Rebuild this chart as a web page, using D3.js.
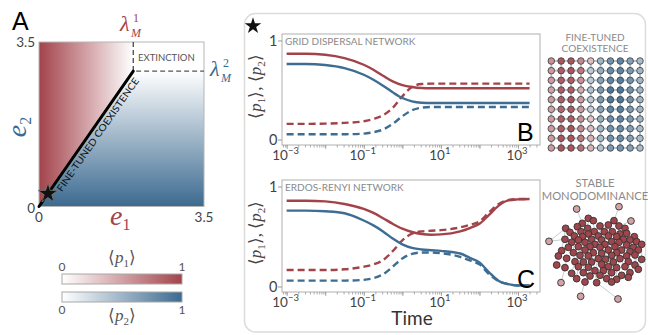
<!DOCTYPE html>
<html>
<head>
<meta charset="utf-8">
<script src="https://cdn.jsdelivr.net/npm/d3@7"></script>
<style>
  html, body { margin: 0; padding: 0; background: #fff; }
  svg { display: block; font-family: Lato, "Open Sans", sans-serif; }
</style>
</head>
<body>
<svg id="fig" width="648" height="335"></svg>
<script>
// ---- data ----
// panel A: phase diagram
const eMax = 3.5;
const lambda1 = 2.0;   // lambda_M^1 on the e1 axis
const lambda2 = 2.88;  // lambda_M^2 on the e2 axis
const starPoint = [0.19, 0.275];
const phaseTicks = [0, 3.5];

// panels B & C: time series (log10 of time)
const logTime = [-3, -2.5, -2, -1.5, -1, -0.75, -0.5, -0.25, 0, 0.25, 0.5, 0.75, 1, 1.5, 1.75, 2, 2.25, 2.5, 2.75, 3, 3.3];

const gridP1 = [.866, .866, .856, .822, .755, .705, .644, .587, .550, .530, .520, .518, .518, .518, .518, .518, .518, .518, .518, .518, .518];
const gridP2 = [.762, .762, .752, .721, .654, .604, .544, .477, .419, .386, .372, .369, .369, .369, .369, .369, .369, .369, .369, .369, .369];
const gridP1Dash = [.158, .158, .161, .168, .185, .208, .245, .319, .436, .530, .560, .564, .564, .564, .564, .564, .564, .564, .564, .564, .564];
const gridP2Dash = [.054, .054, .054, .054, .060, .074, .101, .158, .235, .295, .322, .329, .329, .329, .329, .329, .329, .329, .329, .329, .329];

const erP1 = [.858, .858, .851, .825, .776, .736, .683, .627, .578, .545, .525, .518, .521, .551, .584, .627, .716, .809, .861, .871, .875];
const erP2 = [.759, .759, .752, .733, .660, .611, .551, .479, .422, .386, .370, .363, .356, .330, .287, .241, .142, .056, .023, .010, .010];
const erP1Dash = [.165, .165, .165, .172, .198, .221, .264, .353, .462, .528, .551, .558, .564, .591, .617, .650, .743, .825, .865, .875, .875];
const erP2Dash = [.059, .059, .059, .059, .066, .083, .122, .198, .281, .327, .340, .340, .333, .297, .261, .221, .122, .053, .023, .010, .010];

const xTickLabels = [-3, -1, 1, 3];
const yTickLabels = [0, 1];

// grid network: -1 = dark red (species 1) ... +1 = dark blue (species 2)
const gridState = [
  [-0.55, -0.9, -0.9, -0.6, -0.3, 0.45, 0.7, 0.8, 0.6, 0.4],
  [-0.5, -0.85, -0.9, -0.7, 0.3, 0.5, 0.75, 0.8, 0.65, 0.45],
  [-0.5, -0.85, -0.85, -0.55, 0.3, 0.6, 0.8, 0.85, 0.7, 0.45],
  [-0.45, -0.85, -0.85, -0.4, 0.35, 0.65, 0.9, 0.9, 0.7, 0.45],
  [-0.5, -0.85, -0.9, -0.5, 0.3, 0.65, 0.9, 0.9, 0.7, 0.45],
  [-0.45, -0.8, -0.85, -0.5, 0.25, 0.6, 0.8, 0.85, 0.65, 0.45],
  [-0.5, -0.85, -0.85, -0.55, -0.25, 0.5, 0.75, 0.8, 0.65, 0.45],
  [-0.5, -0.85, -0.9, -0.6, -0.3, 0.45, 0.7, 0.75, 0.6, 0.4],
  [-0.5, -0.9, -0.9, -0.7, -0.35, 0.4, 0.7, 0.75, 0.6, 0.4],
  [-0.5, -0.9, -0.9, -0.75, -0.35, 0.35, 0.65, 0.7, 0.6, 0.4]
];

// Erdos-Renyi network drawing (layout units), first 7 nodes are the pale ones
const netNodes = [
  [95, 27], [222, 20], [258, 63], [12, 124], [48, 248], [107, 289], [219, 297],
  [130, 55], [145, 62], [207, 62], [112, 70], [190, 75], [97, 80], [165, 78], [222, 78],
  [62, 85], [128, 85], [240, 85], [75, 97], [108, 95], [148, 95], [178, 95], [202, 95],
  [245, 100], [225, 102], [130, 102], [88, 108], [113, 110], [160, 108], [190, 108], [215, 110],
  [268, 110], [60, 118], [100, 120], [140, 118], [170, 120], [235, 118], [255, 120], [80, 127],
  [120, 127], [200, 125], [222, 127], [275, 125], [150, 133], [180, 133], [245, 135], [290, 133],
  [70, 142], [100, 140], [135, 140], [165, 142], [210, 140], [265, 142], [50, 152], [120, 150],
  [190, 150], [230, 150], [255, 155], [280, 150], [85, 158], [145, 158], [170, 160], [215, 158],
  [40, 168], [105, 166], [130, 168], [200, 166], [245, 168], [270, 165], [65, 175], [160, 176],
  [182, 178], [225, 176], [290, 178], [90, 185], [115, 186], [140, 186], [205, 186], [250, 185],
  [35, 195], [170, 193], [270, 195], [60, 203], [100, 200], [130, 202], [190, 200], [215, 203],
  [240, 200], [150, 212], [175, 212], [280, 208], [80, 220], [115, 218], [200, 218], [255, 218],
  [135, 228], [165, 226], [230, 226], [95, 236], [185, 236], [215, 238], [250, 232], [120, 246],
  [155, 248], [200, 246]
];
const netPale = 7;
const netEdges = [
  [0, 10], [1, 9], [2, 14], [3, 32], [3, 15], [4, 82], [5, 102], [6, 103],
  [7, 16], [8, 20], [10, 19], [12, 26], [13, 28], [11, 22], [9, 24], [17, 23], [15, 18], [18, 33],
  [19, 25], [20, 34], [21, 29], [22, 30], [24, 36], [23, 31], [26, 38], [27, 39], [28, 35], [29, 40],
  [30, 41], [31, 42], [32, 47], [33, 48], [34, 43], [35, 44], [36, 45], [37, 46], [38, 53], [39, 54],
  [40, 55], [41, 56], [42, 58], [43, 60], [44, 61], [45, 57], [47, 59], [48, 64], [49, 65], [50, 70],
  [51, 62], [52, 68], [53, 63], [54, 75], [55, 71], [56, 72], [57, 67], [59, 74], [60, 76], [61, 80],
  [62, 77], [63, 69], [64, 83], [65, 84], [66, 85], [67, 78], [68, 81], [69, 82], [70, 88], [71, 89],
  [72, 86], [73, 90], [74, 91], [75, 92], [76, 95], [77, 93], [78, 94], [79, 82], [80, 96], [81, 94],
  [83, 98], [84, 95], [85, 99], [86, 100], [87, 101], [88, 103], [89, 99], [93, 104], [97, 100],
  [16, 49], [25, 43], [34, 61], [44, 66], [51, 67], [12, 47], [21, 50], [27, 64], [46, 73], [58, 81],
  [15, 53], [11, 40], [13, 44], [49, 88], [35, 71], [26, 59], [37, 52], [39, 76], [62, 87], [20, 50], [66, 97]
];

// ---- colours / fonts ----
const RED = '#a3434b';
const BLUE = '#3c6a90';
const LINE_RED = '#a2434a';
const LINE_BLUE = '#3e6d93';
const SERIF = "'Liberation Serif', 'Times New Roman', serif";

const svg = d3.select('#fig');
const defs = svg.append('defs');

function linGrad(id, x1, y1, x2, y2, from, to) {
  const g = defs.append('linearGradient')
    .attr('id', id)
    .attr('gradientUnits', 'userSpaceOnUse')
    .attr('x1', x1).attr('y1', y1).attr('x2', x2).attr('y2', y2);
  g.append('stop').attr('offset', 0).attr('stop-color', from);
  g.append('stop').attr('offset', 1).attr('stop-color', to);
}

// ================= panel A =================
const xA = d3.scaleLinear().domain([0, eMax]).range([39, 204]);
const yA = d3.scaleLinear().domain([0, eMax]).range([206.5, 42]);

linGrad('redField', xA(0), 0, xA(lambda1), 0, RED, '#ffffff');
linGrad('blueField', 0, yA(0), 0, yA(lambda2), BLUE, '#ffffff');

const polyLine = d3.line().x(d => xA(d[0])).y(d => yA(d[1]));
const redRegion = [[0, 0], [lambda1, lambda2], [lambda1, eMax], [0, eMax]];
const blueRegion = [[0, 0], [eMax, 0], [eMax, lambda2], [lambda1, lambda2]];

const gA = svg.append('g');
gA.append('path').attr('d', polyLine(redRegion) + 'Z').attr('fill', 'url(#redField)');
gA.append('path').attr('d', polyLine(blueRegion) + 'Z').attr('fill', 'url(#blueField)');
gA.append('rect')
  .attr('x', xA(0)).attr('y', yA(eMax))
  .attr('width', xA(eMax) - xA(0)).attr('height', yA(0) - yA(eMax))
  .attr('fill', 'none').attr('stroke', '#b5b5b5').attr('stroke-width', 1);

gA.append('path')
  .attr('d', polyLine([[lambda1, eMax], [lambda1, lambda2], [eMax, lambda2]]))
  .attr('fill', 'none').attr('stroke', '#555').attr('stroke-width', 1.4)
  .attr('stroke-dasharray', '5,3');

gA.append('path')
  .attr('d', polyLine([[0, 0], [lambda1, lambda2]]))
  .attr('stroke', '#000').attr('stroke-width', 3).attr('stroke-linecap', 'round');

// label along the coexistence line
const angA = Math.atan2(yA(lambda2) - yA(0), xA(lambda1) - xA(0)) * 180 / Math.PI;
const nx = 0.819 * 10.5, ny = 0.574 * 10.5;
const t0 = 0.15;
gA.append('text')
  .attr('transform', `translate(${xA(lambda1 * t0) + nx},${yA(lambda2 * t0) + ny}) rotate(${angA})`)
  .attr('font-size', 9.5).attr('fill', '#111')
  .attr('textLength', 136).attr('lengthAdjust', 'spacingAndGlyphs')
  .text('FINE-TUNED COEXISTENCE');

gA.append('path')
  .attr('d', d3.symbol(d3.symbolStar).size(120)())
  .attr('transform', `translate(${xA(starPoint[0])},${yA(starPoint[1])})`)
  .attr('fill', '#111').attr('stroke', '#777').attr('stroke-width', 0.8);

gA.append('text').attr('x', 138).attr('y', 61)
  .attr('font-size', 9.5).attr('fill', '#555').text('EXTINCTION');

// tick labels
gA.selectAll('.ylab').data(phaseTicks).join('text')
  .attr('x', 35).attr('y', d => yA(d) + (d === 0 ? 6 : 5))
  .attr('text-anchor', 'end').attr('font-size', 13.5).attr('fill', '#444')
  .text(d => d);
gA.selectAll('.xlab').data(phaseTicks).join('text')
  .attr('x', d => xA(d)).attr('y', 222)
  .attr('text-anchor', 'middle').attr('font-size', 13.5).attr('fill', '#444')
  .text(d => d);

gA.append('text').attr('x', 12).attr('y', 30)
  .attr('font-family', 'Arial, sans-serif').attr('font-size', 25).text('A');

// axis symbols
const e1 = gA.append('text').attr('font-family', SERIF).attr('x', 110).attr('y', 225)
  .attr('fill', RED).attr('font-size', 28).attr('font-style', 'italic');
e1.append('tspan').text('e');
e1.append('tspan').attr('font-size', 16).attr('font-style', 'normal').attr('dy', 5).text('1');

const e2 = gA.append('text').attr('font-family', SERIF)
  .attr('transform', 'translate(26,127) rotate(-90)').attr('text-anchor', 'middle')
  .attr('fill', BLUE).attr('font-size', 28).attr('font-style', 'italic');
e2.append('tspan').text('e');
e2.append('tspan').attr('font-size', 16).attr('font-style', 'normal').attr('dy', 5).text('2');

function lambdaLabel(x, y, sup, color) {
  const g = gA.append('g').attr('font-family', SERIF).attr('fill', color);
  g.append('text').attr('x', x).attr('y', y).attr('font-size', 22).attr('font-style', 'italic').text('λ');
  g.append('text').attr('x', x + 13).attr('y', y - 9).attr('font-size', 12).text(sup);
  g.append('text').attr('x', x + 11).attr('y', y + 6).attr('font-size', 12)
    .attr('font-style', 'italic').text('M');
}
lambdaLabel(120, 31, '1', RED);
lambdaLabel(210, 76, '2', BLUE);

// colour bars
const xBar = d3.scaleLinear().domain([0, 1]).range([62, 182]);
linGrad('barRed', xBar(0), 0, xBar(1), 0, '#ffffff', RED);
linGrad('barBlue', xBar(0), 0, xBar(1), 0, '#ffffff', BLUE);

function colourBar(y, grad, tickY, labelY, sub) {
  gA.append('rect').attr('x', xBar(0)).attr('y', y)
    .attr('width', xBar(1) - xBar(0)).attr('height', 10)
    .attr('fill', `url(#${grad})`).attr('stroke', '#a8a8a8').attr('stroke-width', 1);
  gA.selectAll(null).data([0, 1]).join('text')
    .attr('x', d => xBar(d)).attr('y', tickY)
    .attr('text-anchor', 'middle').attr('font-size', 12).attr('fill', '#555')
    .text(d => d);
  const t = gA.append('text').attr('font-family', SERIF).attr('x', xBar(0.5)).attr('y', labelY)
    .attr('text-anchor', 'middle').attr('font-size', 17).attr('fill', '#555');
  t.append('tspan').text('⟨');
  t.append('tspan').attr('font-style', 'italic').text('p');
  t.append('tspan').attr('font-size', 11).attr('dy', 4).text(sub);
  t.append('tspan').attr('dy', -4).text('⟩');
}
colourBar(274, 'barRed', 271, 263, '1');
colourBar(292, 'barBlue', 314, 321, '2');

// ================= panels B & C =================
svg.append('rect')
  .attr('x', 244.5).attr('y', 13.5).attr('width', 401).attr('height', 318.5)
  .attr('rx', 11).attr('fill', 'none').attr('stroke', '#dcdcdc').attr('stroke-width', 1.5);

svg.append('path')
  .attr('d', d3.symbol(d3.symbolStar).size(85)())
  .attr('transform', 'translate(253,26)').attr('fill', '#111');

const xT = d3.scaleLog().domain([10 ** -3.12, 10 ** 3.57]).range([282, 540]);

function timePanel(top, bottom, series, title, letter) {
  const g = svg.append('g');
  const y = d3.scaleLinear().domain([-0.055, 1.065]).range([bottom, top]);

  g.append('rect').attr('x', 282).attr('y', top).attr('width', 258).attr('height', bottom - top)
    .attr('fill', '#fff').attr('stroke', '#b0b0b0').attr('stroke-width', 1);

  // minor + major x ticks
  const allTicks = xT.ticks();
  const minorAxis = d3.axisBottom(xT).tickValues(allTicks).tickSize(2.5).tickFormat('');
  const majorAxis = d3.axisBottom(xT)
    .tickValues(allTicks.filter(v => Number.isInteger(Math.round(Math.log10(v) * 1e6) / 1e6)))
    .tickSize(4).tickFormat('');
  [minorAxis, majorAxis].forEach(ax => {
    const a = g.append('g').attr('transform', `translate(0,${bottom})`).call(ax);
    a.select('.domain').remove();
    a.selectAll('.tick line').attr('stroke', '#999').attr('stroke-width', 0.8);
  });

  // x tick labels as 10^k
  const lab = g.selectAll('.xt').data(xTickLabels).join('text')
    .attr('x', d => xT(10 ** d) - 1).attr('y', bottom + 15)
    .attr('text-anchor', 'middle').attr('font-size', 13.5).attr('fill', '#444');
  lab.append('tspan').text('10');
  lab.append('tspan').attr('font-size', 9.5).attr('dy', -6).text(d => (d < 0 ? '−' : '') + Math.abs(d));

  // y axis
  const yAx = g.append('g').attr('transform', 'translate(282,0)')
    .call(d3.axisLeft(y).tickValues(yTickLabels).tickSize(4).tickFormat(d3.format('d')));
  yAx.select('.domain').remove();
  yAx.selectAll('.tick line').attr('stroke', '#999');
  yAx.selectAll('.tick text').attr('font-size', 14.5).attr('fill', '#444')
    .attr('font-family', 'Lato, sans-serif').attr('x', -4.5);

  const yl = g.append('text').attr('font-family', SERIF)
    .attr('transform', `translate(261,${(top + bottom) / 2 - 3}) rotate(-90)`)
    .attr('text-anchor', 'middle').attr('font-size', 17).attr('fill', '#444');
  ['1', '2'].forEach((s, i) => {
    yl.append('tspan').text(i ? ', ⟨' : '⟨');
    yl.append('tspan').attr('font-style', 'italic').text('p');
    yl.append('tspan').attr('font-size', 11).attr('dy', 4).text(s);
    yl.append('tspan').attr('dy', -4).text('⟩');
  });

  g.append('text').attr('x', 285).attr('y', top + 11)
    .attr('font-size', 10).attr('fill', '#8a8a8a').text(title);

  const line = d3.line()
    .x((d, i) => xT(10 ** logTime[i]))
    .y(d => y(d))
    .curve(d3.curveMonotoneX);

  series.forEach(s => {
    g.append('path').attr('d', line(s.values))
      .attr('fill', 'none').attr('stroke', s.color).attr('stroke-width', 2.4)
      .attr('stroke-dasharray', s.dashed ? '7,4' : null);
  });

  g.append('text').attr('x', 517).attr('y', bottom - 4)
    .attr('font-family', 'Arial, sans-serif').attr('font-size', 25).attr('fill', '#000')
    .text(letter);
}

timePanel(34, 145, [
  { values: gridP1Dash, color: LINE_RED, dashed: true },
  { values: gridP2Dash, color: LINE_BLUE, dashed: true },
  { values: gridP1, color: LINE_RED },
  { values: gridP2, color: LINE_BLUE }
], 'GRID DISPERSAL NETWORK', 'B');

timePanel(180, 292, [
  { values: erP1Dash, color: LINE_RED, dashed: true },
  { values: erP2Dash, color: LINE_BLUE, dashed: true },
  { values: erP1, color: LINE_RED },
  { values: erP2, color: LINE_BLUE }
], 'ERDOS-RENYI NETWORK', 'C');

svg.append('text').attr('x', 412).attr('y', 325).attr('text-anchor', 'middle')
  .attr('font-size', 19).attr('fill', '#333').text('Time');

// ---- side labels ----
const sideLab = svg.append('g').attr('fill', '#8a8a8a').attr('text-anchor', 'middle');
sideLab.append('text').attr('x', 595).attr('y', 41).attr('font-size', 10).text('FINE-TUNED');
sideLab.append('text').attr('x', 595).attr('y', 52).attr('font-size', 10).text('COEXISTENCE');
sideLab.append('text').attr('x', 595).attr('y', 187).attr('font-size', 11.2).text('STABLE');
sideLab.append('text').attr('x', 595).attr('y', 199.5).attr('font-size', 11.2).text('MONODOMINANCE');

// ---- grid network ----
const gx = d3.scaleLinear().domain([0, 9]).range([551.3, 640]);
const gy = d3.scaleLinear().domain([0, 9]).range([61, 148]);
const stateColour = v => v < 0
  ? d3.interpolateRgb('#f2f2f2', RED)(-v)
  : d3.interpolateRgb('#f2f2f2', BLUE)(v);

const cells = gridState.flatMap((row, r) => row.map((v, c) => ({ r, c, v })));
const gridG = svg.append('g');
const gridLinks = cells.flatMap(d => {
  const out = [];
  if (d.c < 9) out.push([d, { r: d.r, c: d.c + 1 }]);
  if (d.r < 9) out.push([d, { r: d.r + 1, c: d.c }]);
  return out;
});
gridG.selectAll('line').data(gridLinks).join('line')
  .attr('x1', d => gx(d[0].c)).attr('y1', d => gy(d[0].r))
  .attr('x2', d => gx(d[1].c)).attr('y2', d => gy(d[1].r))
  .attr('stroke', '#b9c3cc').attr('stroke-width', 2);
gridG.selectAll('circle').data(cells).join('circle')
  .attr('cx', d => gx(d.c)).attr('cy', d => gy(d.r)).attr('r', 3.3)
  .attr('fill', d => stateColour(d.v)).attr('stroke', '#3a3a3a').attr('stroke-width', 0.8);

// ---- Erdos-Renyi network ----
const nxs = d3.scaleLinear().domain([0, 310]).range([545, 648.3]);
const nys = d3.scaleLinear().domain([0, 336]).range([200, 312]);
const netG = svg.append('g');
netG.selectAll('line').data(netEdges).join('line')
  .attr('x1', d => nxs(netNodes[d[0]][0])).attr('y1', d => nys(netNodes[d[0]][1]))
  .attr('x2', d => nxs(netNodes[d[1]][0])).attr('y2', d => nys(netNodes[d[1]][1]))
  .attr('stroke', '#c6ced5').attr('stroke-width', 1);
netG.selectAll('circle').data(netNodes).join('circle')
  .attr('cx', d => nxs(d[0])).attr('cy', d => nys(d[1])).attr('r', 3.4)
  .attr('fill', (d, i) => i < netPale ? '#d3a3a8' : '#9f454c')
  .attr('stroke', '#333').attr('stroke-width', 0.9);
</script>
</body>
</html>
